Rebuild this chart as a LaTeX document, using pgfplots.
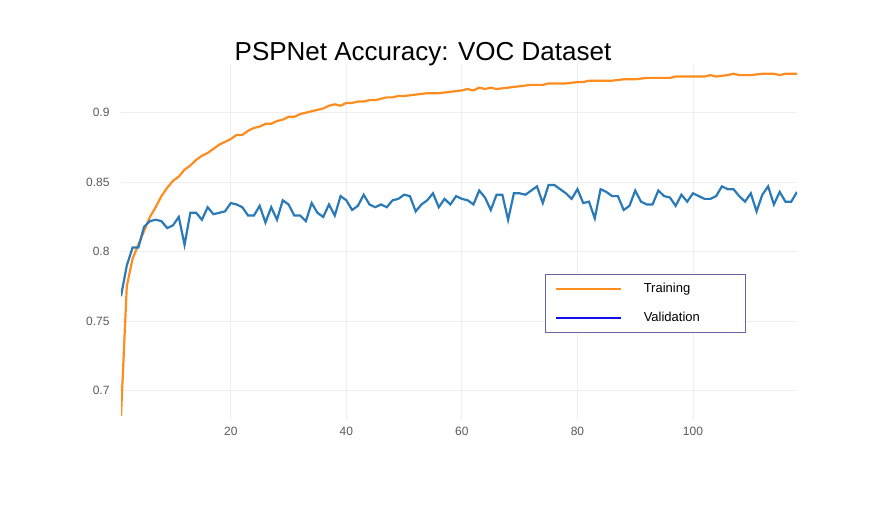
\documentclass[border=0pt]{standalone}
\usepackage{pgfplots}
\pgfplotsset{compat=1.18}
\usepackage{fontspec}
\setmainfont{Liberation Sans}
\definecolor{tr}{HTML}{FF8C1E}
\definecolor{va}{HTML}{2A7AB8}
\definecolor{lb}{HTML}{1010EE}
\definecolor{gr}{HTML}{EEEEEE}
\begin{document}
\begin{tikzpicture}
\begin{axis}[scale only axis, width=676pt, height=356pt,
  xmin=1, xmax=118, ymin=0.679, ymax=0.935,
  axis line style={draw=none}, tick style={draw=none},
  grid=major, grid style={gr, line width=0.8pt},
  xtick={20,40,60,80,100}, ytick={0.7,0.75,0.8,0.85,0.9},
  yticklabels={0.7,0.75,0.8,0.85,0.9},
  ticklabel style={font=\fontsize{12}{14}\selectfont, text=black!65},
  /pgf/number format/assume math mode=true,
  xticklabel style={yshift=-4pt}, yticklabel style={xshift=-8pt},
  legend style={at={(0.627,0.41)}, anchor=north west, draw=black!60!blue!60, line width=0.6pt,
    font=\fontsize{13}{16}\selectfont, inner xsep=10pt, inner ysep=7pt, row sep=14pt,
    cells={anchor=west}},
  legend image code/.code={\draw[#1] (0pt,0pt) -- (65pt,0pt);},
  legend cell align=left]
\addplot[tr, line width=2.2pt, forget plot] coordinates {
(1,0.682)(2,0.775)(3,0.795)(4,0.805)(5,0.815)(6,0.825)(7,0.832)(8,0.840)(9,0.846)(10,0.851)
(11,0.854)(12,0.859)(13,0.862)(14,0.866)(15,0.869)(16,0.871)(17,0.874)(18,0.877)(19,0.879)(20,0.881)
(21,0.884)(22,0.884)(23,0.887)(24,0.889)(25,0.890)(26,0.892)(27,0.892)(28,0.894)(29,0.895)(30,0.897)
(31,0.897)(32,0.899)(33,0.900)(34,0.901)(35,0.902)(36,0.903)(37,0.905)(38,0.906)(39,0.905)(40,0.907)
(41,0.907)(42,0.908)(43,0.908)(44,0.909)(45,0.909)(46,0.910)(47,0.911)(48,0.911)(49,0.912)(50,0.912)
(52,0.913)(54,0.914)(56,0.914)(58,0.915)(60,0.916)(61,0.917)(62,0.916)(63,0.918)(64,0.917)(65,0.918)
(66,0.917)(68,0.918)(70,0.919)(72,0.920)(74,0.920)(75,0.921)(76,0.921)(78,0.921)(80,0.922)(81,0.922)
(82,0.923)(84,0.923)(86,0.923)(88,0.924)(90,0.924)(92,0.925)(94,0.925)(96,0.925)(97,0.926)(98,0.926)
(100,0.926)(102,0.926)(103,0.927)(104,0.926)(106,0.927)(107,0.928)(108,0.927)(110,0.927)(112,0.928)
(114,0.928)(115,0.927)(116,0.928)(117,0.928)(118,0.928)};
\addplot[va, line width=2.2pt, forget plot] coordinates {
(1,0.768)(2,0.790)(3,0.803)(4,0.803)(5,0.818)(6,0.822)(7,0.823)(8,0.822)(9,0.817)(10,0.819)
(11,0.825)(12,0.805)(13,0.828)(14,0.828)(15,0.823)(16,0.832)(17,0.827)(18,0.828)(19,0.829)(20,0.835)
(21,0.834)(22,0.832)(23,0.826)(24,0.826)(25,0.833)(26,0.821)(27,0.832)(28,0.823)(29,0.837)(30,0.834)
(31,0.826)(32,0.826)(33,0.822)(34,0.835)(35,0.828)(36,0.825)(37,0.834)(38,0.826)(39,0.840)(40,0.837)
(41,0.830)(42,0.833)(43,0.841)(44,0.834)(45,0.832)(46,0.834)(47,0.832)(48,0.837)(49,0.838)(50,0.841)
(51,0.840)(52,0.829)(53,0.834)(54,0.837)(55,0.842)(56,0.832)(57,0.838)(58,0.834)(59,0.840)(60,0.838)
(61,0.837)(62,0.834)(63,0.844)(64,0.839)(65,0.830)(66,0.841)(67,0.841)(68,0.823)(69,0.842)(70,0.842)
(71,0.841)(72,0.844)(73,0.847)(74,0.835)(75,0.848)(76,0.848)(77,0.845)(78,0.842)(79,0.838)(80,0.845)
(81,0.835)(82,0.836)(83,0.824)(84,0.845)(85,0.843)(86,0.840)(87,0.840)(88,0.830)(89,0.833)(90,0.844)
(91,0.836)(92,0.834)(93,0.834)(94,0.844)(95,0.840)(96,0.839)(97,0.833)(98,0.841)(99,0.836)(100,0.842)
(101,0.840)(102,0.838)(103,0.838)(104,0.840)(105,0.847)(106,0.845)(107,0.845)(108,0.840)(109,0.836)(110,0.842)
(111,0.829)(112,0.841)(113,0.847)(114,0.834)(115,0.843)(116,0.836)(117,0.836)(118,0.843)};
\addlegendimage{draw=tr, line width=1.6pt}
\addlegendentry{\hspace{20pt}\makebox[90pt][l]{Training}}
\addlegendimage{draw=lb, line width=1.6pt}
\addlegendentry{\hspace{20pt}\makebox[90pt][l]{Validation}}
\end{axis}
\node at (302pt,366pt) {\fontsize{26}{30}\selectfont PSPNet Accuracy: VOC Dataset};
\path[use as bounding box] (-121pt,-101pt) rectangle (764pt,420pt);
\end{tikzpicture}
\end{document}
